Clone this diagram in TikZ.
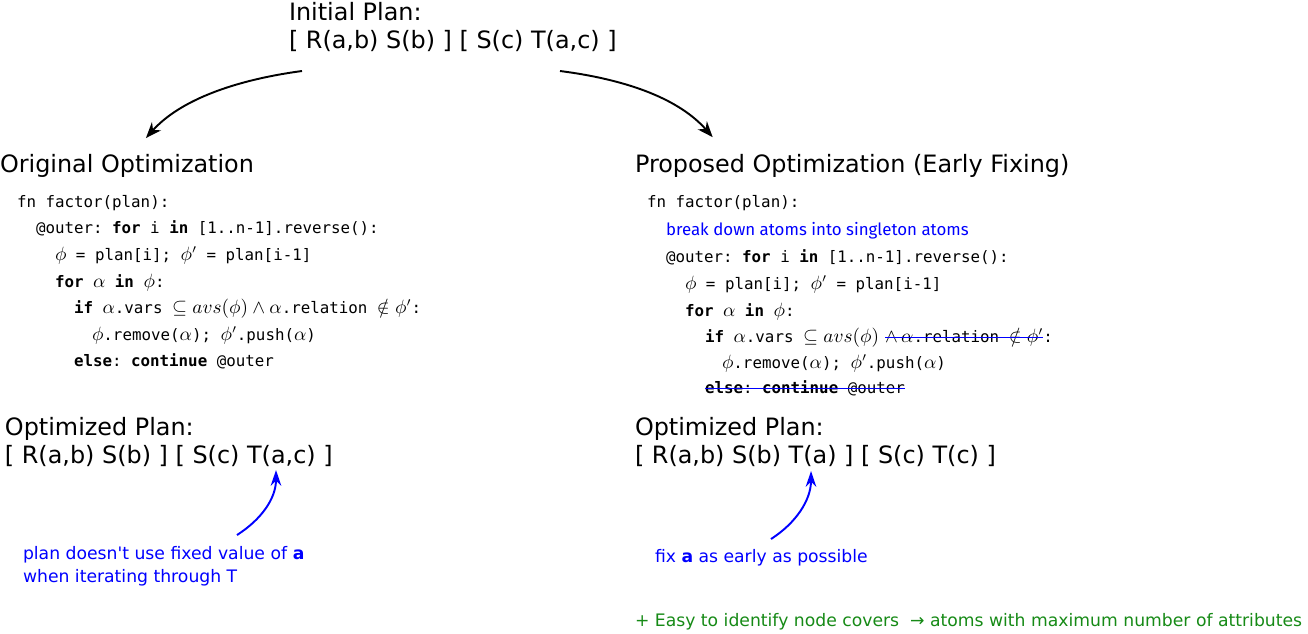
\documentclass[tikz,border=0pt]{standalone}
\usepackage{fontspec}
\setmainfont{DejaVu Sans}
\setmonofont{DejaVu Sans Mono}
\newfontfamily\notefont{Fira Sans}
\newfontfamily\plainfont{DejaVu Sans}
\usetikzlibrary{arrows.meta,positioning}
\definecolor{noteblue}{RGB}{0,0,255}
\definecolor{notegreen}{RGB}{22,138,22}
\newcommand\mth[1]{{\fontsize{10.6}{11}\selectfont$#1$}}

\begin{document}
\begin{tikzpicture}[
  x=0.02cm, y=-0.02cm,
  every node/.style = {inner sep=0pt, outer sep=0pt, anchor=base west},
  big/.style   = {font=\fontsize{13.6}{15.9}\selectfont, align=left},
  code/.style  = {font=\fontsize{9}{11}\ttfamily},
  note/.style  = {font=\fontsize{9.8}{13}\plainfont, text=noteblue, align=left},
  ar/.style    = {-{Stealth[length=9pt,width=7pt]}, line width=1.1pt, black},
  bar/.style   = {-{Stealth[length=9pt,width=6pt]}, line width=1.1pt, noteblue},
  cut/.style   = {draw=noteblue, line width=1pt},
]
\useasboundingbox (0,0) rectangle (1308,633);

% ---- initial plan ------------------------------------------------------------
\node[big] (init) at (289,48) {Initial Plan:\\{[} R(a,b) S(b) ] [ S(c) T(a,c) ]};

% ---- headings ----------------------------------------------------------------
\node[big] (orig) at (0,172)   {Original Optimization};
\node[big] (prop) at (635,172) {Proposed Optimization (Early Fixing)};

\coordinate (la) at (302,71);
\coordinate (ra) at (560,71);
\draw[ar] (la) .. controls (235,80) and (180,100) .. ([xshift=10.8pt,yshift=9pt]orig.north);
\draw[ar] (ra) .. controls (630,80) and (680,100) .. ([xshift=-79.4pt,yshift=9.5pt]prop.north);

% ---- original code -----------------------------------------------------------
\node[code] (o1) at (17,207)  {fn factor(plan):};
\node[code] (o2) at (36,233)  {@outer: \textbf{for} i \textbf{in} [1..n-1].reverse():};
\node[code] (o3) at (55,260)  {\mth{\phi} = plan[i]; \mth{\phi'} = plan[i-1]};
\node[code] (o4) at (55,287)  {\textbf{for} \mth{\alpha} \textbf{in} \mth{\phi}:};
\node[code] (o5) at (74,313)  {\textbf{if} \mth{\alpha}.vars \mth{\subseteq avs(\phi) \land \alpha}.relation \mth{\notin \phi'}:};
\node[code] (o6) at (92,340)  {\mth{\phi}.remove(\mth{\alpha}); \mth{\phi'}.push(\mth{\alpha})};
\node[code] (o7) at (74,366)  {\textbf{else}: \textbf{continue} @outer};

% ---- proposed code -----------------------------------------------------------
\node[code] (p1) at (647,207) {fn factor(plan):};
\node[code,font=\fontsize{9.6}{11}\notefont,text=noteblue] (p2) at (666,235)
  {break down atoms into singleton atoms};
\node[code] (p3) at (666,262) {@outer: \textbf{for} i \textbf{in} [1..n-1].reverse():};
\node[code] (p4) at (685,289) {\mth{\phi} = plan[i]; \mth{\phi'} = plan[i-1]};
\node[code] (p5) at (685,316) {\textbf{for} \mth{\alpha} \textbf{in} \mth{\phi}:};
\node[code] (p6) at (705,342) {\textbf{if} \mth{\alpha}.vars \mth{\subseteq avs(\phi)}};
\node[code,right=3.5pt of p6.base east,anchor=base west] (p6x)
  {\mth{\land\,\alpha}.relation \mth{\notin \phi'}};
\node[code,anchor=base west] (p6c) at (p6x.base east) {:};
\node[code] (p7) at (722,368) {\mth{\phi}.remove(\mth{\alpha}); \mth{\phi'}.push(\mth{\alpha})};
\node[code] (p8) at (705,393) {\textbf{else}: \textbf{continue} @outer};

\draw[cut] ([yshift=2.5pt]p6x.base west) -- ([yshift=2.5pt]p6x.base east);
\draw[cut] ([yshift=2.5pt]p8.base west) -- ([yshift=2.5pt]p8.base east);

% ---- optimized plans ---------------------------------------------------------
\node[big] (optl) at (5,463)   {Optimized Plan:\\{[} R(a,b) S(b) ] [ S(c) T(a,c) ]};
\node[big] (optr) at (635,463) {Optimized Plan:\\{[} R(a,b) S(b) T(a) ] [ S(c) T(c) ]};

% ---- notes -------------------------------------------------------------------
\node[note] (nl) at (23,582) {plan doesn't use fixed value of \textbf{a}\\when iterating through T};
\node[note] (nr) at (655,562) {fix \textbf{a} as early as possible};

\coordinate (nls) at (237,535);
\coordinate (nrs) at (771,539);
\coordinate (nlt) at (276,470);
\coordinate (nrt) at (811,471);
\draw[bar] (nls) .. controls (262,519) and (276,498) .. (nlt);
\draw[bar] (nrs) .. controls (796,523) and (811,500) .. (nrt);

\node[note,text=notegreen] (gain) at (635,626)
  {+ Easy to identify node covers \ → atoms with maximum number of attributes};

\end{tikzpicture}
\end{document}
